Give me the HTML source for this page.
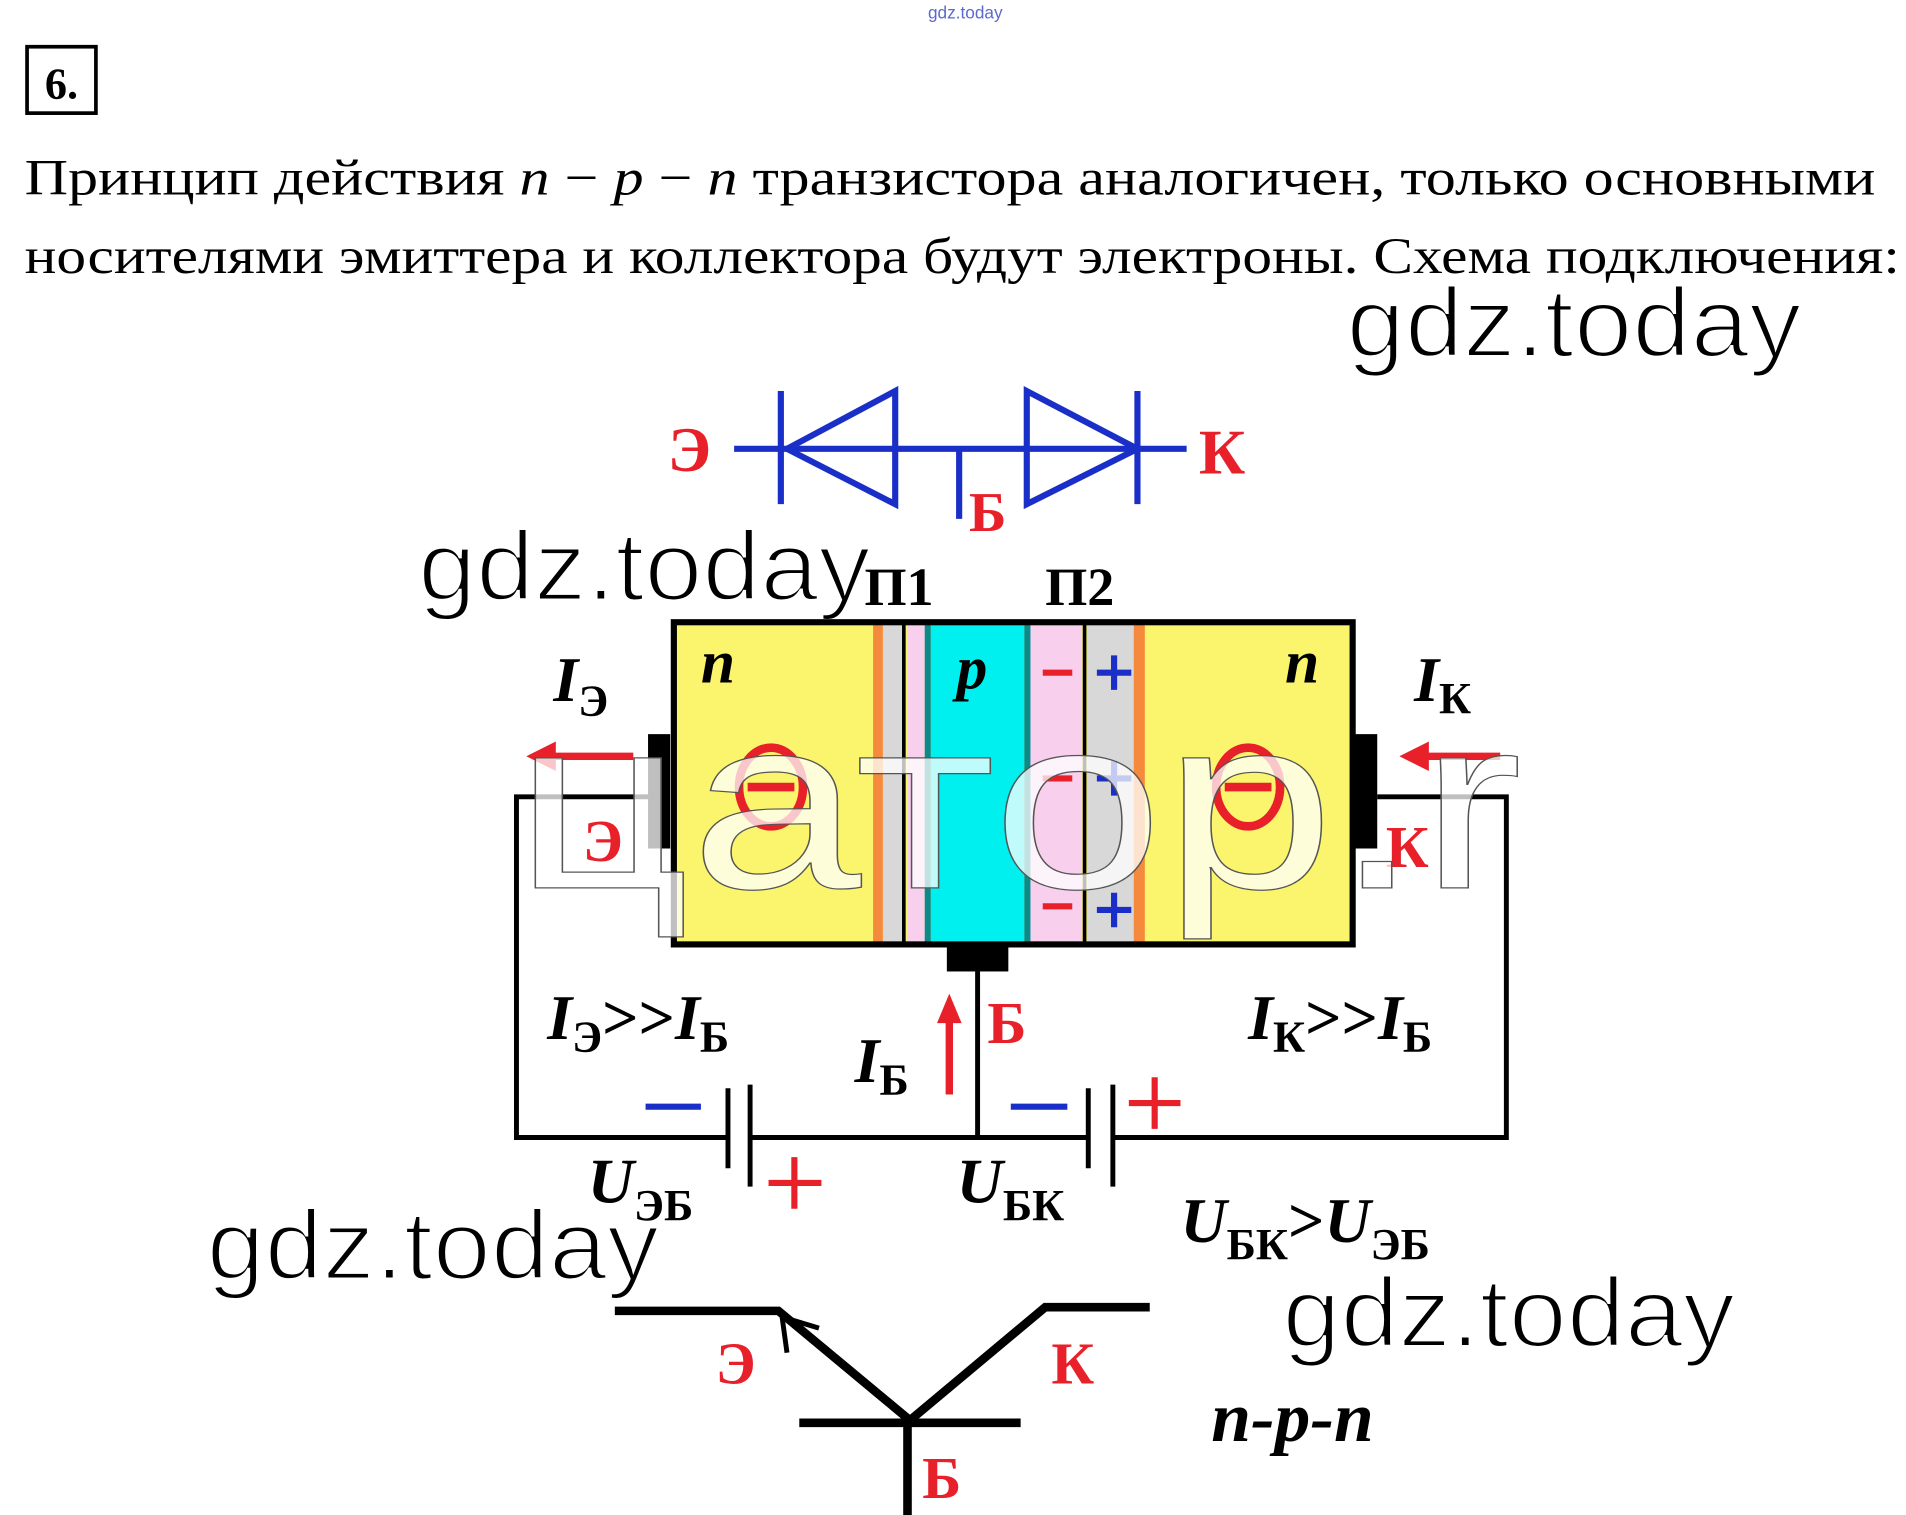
<!DOCTYPE html>
<html><head><meta charset="utf-8"><style>html,body{margin:0;padding:0;background:#fff}svg{display:block}</style></head><body>
<svg width="1906" height="1515" viewBox="0 0 1550 1232" preserveAspectRatio="none" xmlns="http://www.w3.org/2000/svg">
<rect width="1550" height="1232" fill="#fff"/>
<text x="785" y="15" font-family="Liberation Sans, sans-serif" font-size="14" fill="#5a6ad0" text-anchor="middle">gdz.today</text>
<rect x="22" y="38" width="56" height="54" fill="none" stroke="#000" stroke-width="3"/>
<text x="50" y="80" font-family="Liberation Serif, serif" font-size="36" font-weight="bold" text-anchor="middle">6.</text>
<g font-family="Liberation Serif, serif" font-size="41" fill="#000">
<text x="20" y="158" textLength="1505" lengthAdjust="spacingAndGlyphs">Принцип действия <tspan font-style="italic">n</tspan> − <tspan font-style="italic">p</tspan> − <tspan font-style="italic">n</tspan> транзистора аналогичен, только основными</text>
<text x="20" y="222" textLength="1525" lengthAdjust="spacingAndGlyphs">носителями эмиттера и коллектора будут электроны. Схема подключения:</text>
</g>
<g font-family="Liberation Sans, sans-serif" font-size="80" fill="#000" stroke="#fff" stroke-width="2.5">
<text x="1095" y="290" textLength="370" lengthAdjust="spacingAndGlyphs">gdz.today</text>
</g>
<!-- diode symbol -->
<g stroke="#1a2fc8" stroke-width="5" fill="none">
<line x1="597" y1="365" x2="965" y2="365"/>
<line x1="635" y1="318" x2="635" y2="410"/>
<polygon points="640,365 728,318 728,410"/>
<line x1="780" y1="365" x2="780" y2="422"/>
<polygon points="835,318 835,410 925,365"/>
<line x1="925" y1="318" x2="925" y2="410"/>
</g>
<g font-family="Liberation Serif, serif" font-weight="bold" fill="#e8202a" font-size="52">
<text x="543" y="383">Э</text>
<text x="975" y="385">К</text>
<text x="788" y="432" font-size="46">Б</text>
</g>
<g font-family="Liberation Serif, serif" font-weight="bold" font-size="44" fill="#000">
<text x="703" y="492">П1</text><text x="850" y="492">П2</text>
</g>
<text x="340" y="488" font-family="Liberation Sans, sans-serif" font-size="80" stroke="#fff" stroke-width="2.5" textLength="368" lengthAdjust="spacingAndGlyphs">gdz.today</text>
<!-- transistor body -->
<rect x="548" y="506" width="552" height="262" fill="#fbf56e"/>
<rect x="710" y="508" width="8" height="258" fill="#f58a3c"/>
<rect x="718" y="508" width="15" height="258" fill="#d8d8d8"/>
<rect x="738" y="508" width="14" height="258" fill="#f8d0ee"/>
<rect x="752" y="508" width="5" height="258" fill="#0a8a8a"/>
<rect x="757" y="508" width="76" height="258" fill="#00f0f0"/>
<rect x="833" y="508" width="5" height="258" fill="#0a8a8a"/>
<rect x="838" y="508" width="42" height="258" fill="#f8d0ee"/>
<rect x="884" y="508" width="38" height="258" fill="#d8d8d8"/>
<rect x="922" y="508" width="9" height="258" fill="#f58a3c"/>
<line x1="735" y1="506" x2="735" y2="768" stroke="#000" stroke-width="3"/>
<line x1="882" y1="506" x2="882" y2="768" stroke="#000" stroke-width="3"/>
<rect x="548" y="506" width="552" height="262" fill="none" stroke="#000" stroke-width="5"/>
<g font-family="Liberation Serif, serif" font-style="italic" font-weight="bold" font-size="50" fill="#000">
<text x="570" y="555">n</text><text x="778" y="560">p</text><text x="1045" y="555">n</text>
</g>
<g stroke="#e8202a" stroke-width="5"><line x1="848" y1="547" x2="872" y2="547"/><line x1="848" y1="633" x2="872" y2="633"/><line x1="848" y1="737" x2="872" y2="737"/></g>
<g stroke="#1a2fc8" stroke-width="5"><line x1="892" y1="547" x2="920" y2="547"/><line x1="906" y1="533" x2="906" y2="561"/><line x1="892" y1="633" x2="920" y2="633"/><line x1="906" y1="619" x2="906" y2="647"/><line x1="892" y1="740" x2="920" y2="740"/><line x1="906" y1="726" x2="906" y2="754"/></g>
<g stroke="#e8202a" stroke-width="7" fill="none"><ellipse cx="627" cy="640" rx="26" ry="32"/><line x1="608" y1="640" x2="646" y2="640"/><ellipse cx="1015" cy="640" rx="26" ry="32"/><line x1="996" y1="640" x2="1034" y2="640"/></g>
<rect x="527" y="597" width="18" height="93" fill="#000"/>
<rect x="1102" y="597" width="18" height="93" fill="#000"/>
<rect x="770" y="768" width="50" height="22" fill="#000"/>
<!-- wires -->
<g stroke="#000" stroke-width="4" fill="none">
<polyline points="527,648 420,648 420,925 592,925"/>
<polyline points="610,925 885,925"/>
<polyline points="905,925 1225,925 1225,648 1120,648"/>
<line x1="795" y1="790" x2="795" y2="925"/>
<line x1="592" y1="885" x2="592" y2="950"/>
<line x1="610" y1="882" x2="610" y2="965"/>
<line x1="885" y1="885" x2="885" y2="950"/>
<line x1="905" y1="882" x2="905" y2="965"/>
</g>
<g stroke="#1a2fc8" stroke-width="5"><line x1="525" y1="900" x2="570" y2="900"/><line x1="822" y1="900" x2="868" y2="900"/></g>
<g stroke="#e8202a" stroke-width="5"><line x1="625" y1="962" x2="668" y2="962"/><line x1="646" y1="941" x2="646" y2="983"/><line x1="918" y1="897" x2="960" y2="897"/><line x1="939" y1="876" x2="939" y2="918"/></g>
<!-- red arrows -->
<g stroke="#e8202a" stroke-width="6" fill="#e8202a">
<line x1="515" y1="615" x2="445" y2="615"/><polygon points="428,615 452,603 452,627" stroke="none"/>
<line x1="1220" y1="615" x2="1155" y2="615"/><polygon points="1138,615 1162,603 1162,627" stroke="none"/>
<line x1="772" y1="890" x2="772" y2="825"/><polygon points="772,808 762,832 782,832" stroke="none"/>
</g>
<g font-family="Liberation Serif, serif" font-weight="bold" fill="#e8202a" font-size="48">
<text x="474" y="700">Э</text><text x="1127" y="705">К</text><text x="803" y="848">Б</text>
<text x="582" y="1125">Э</text><text x="855" y="1125">К</text><text x="750" y="1218">Б</text>
</g>
<g font-family="Liberation Serif, serif" font-style="italic" font-weight="bold" font-size="52" fill="#000">
<text x="450" y="570">I<tspan font-style="normal" font-size="36" dy="12">Э</tspan></text>
<text x="1150" y="570">I<tspan font-style="normal" font-size="36" dy="10">К</tspan></text>
<text x="445" y="845">I<tspan font-style="normal" font-size="36" dy="10">Э</tspan><tspan dy="-10" font-style="normal">&gt;&gt;</tspan>I<tspan font-style="normal" font-size="36" dy="10">Б</tspan></text>
<text x="695" y="880">I<tspan font-style="normal" font-size="36" dy="10">Б</tspan></text>
<text x="1015" y="845">I<tspan font-style="normal" font-size="36" dy="10">К</tspan><tspan dy="-10" font-style="normal">&gt;&gt;</tspan>I<tspan font-style="normal" font-size="36" dy="10">Б</tspan></text>
<text x="478" y="978">U<tspan font-style="normal" font-size="36" dy="14">ЭБ</tspan></text>
<text x="778" y="978">U<tspan font-style="normal" font-size="36" dy="14">БК</tspan></text>
<text x="960" y="1010">U<tspan font-style="normal" font-size="36" dy="14">БК</tspan><tspan dy="-14" font-style="normal">&gt;</tspan>U<tspan font-style="normal" font-size="36" dy="14">ЭБ</tspan></text>
<text x="985" y="1172" font-size="58">n-p-n</text>
</g>
<!-- bottom symbol -->
<g stroke="#000" stroke-width="7" fill="none">
<polyline points="500,1066 633,1066 740,1155"/>
<polyline points="935,1063 850,1063 740,1155"/>
<line x1="650" y1="1157" x2="830" y2="1157"/>
<line x1="738" y1="1155" x2="738" y2="1232"/>
<polyline points="640,1100 636,1071 666,1080" stroke-width="4"/>
</g>
<g font-family="Liberation Sans, sans-serif" font-size="80" fill="#000" stroke="#fff" stroke-width="2.5">
<text x="168" y="1040" textLength="368" lengthAdjust="spacingAndGlyphs">gdz.today</text>
<text x="1043" y="1095" textLength="368" lengthAdjust="spacingAndGlyphs">gdz.today</text>
</g>
<!-- watermark -->
<text x="418" y="722" font-family="Liberation Sans, sans-serif" font-size="200" fill="#ffffff" fill-opacity="0.75" stroke="#555" stroke-width="1" textLength="820" lengthAdjust="spacingAndGlyphs">цатор.r</text>
</svg>
</body></html>
